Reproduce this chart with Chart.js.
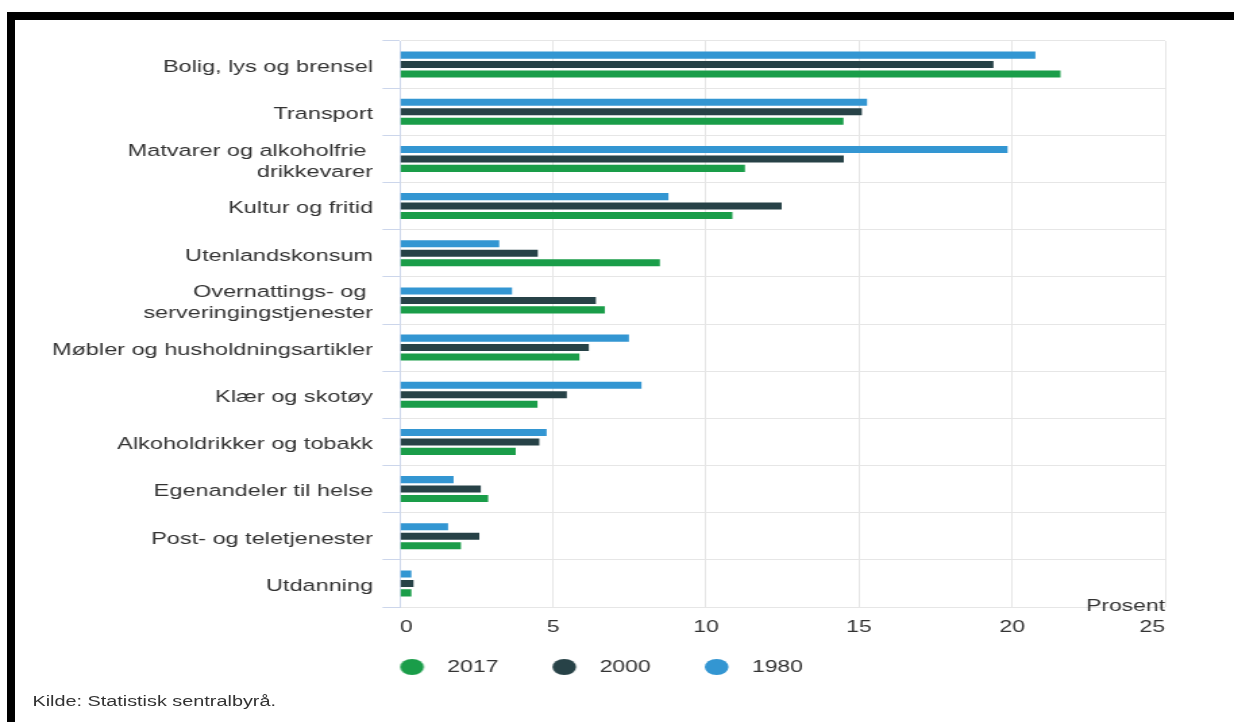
<!DOCTYPE html>
<html>
<head>
<meta charset="utf-8">
<script src="https://cdn.jsdelivr.net/npm/chart.js@4.4.1/dist/chart.umd.min.js"></script>
<style>
  html, body { margin: 0; padding: 0; background: #fff; overflow: hidden; }
  #frame { position: absolute; left: 7px; top: 12px; width: 1227px; height: 710px; box-sizing: border-box;
           border-top: 8px solid #000; border-left: 8px solid #000; }
  #wrap { position: absolute; left: 0; top: 0; width: 914px; height: 722px;
          transform: scaleX(1.3501); transform-origin: 0 0; }
  #chart { position: absolute; left: 0; top: 0; }
  #source { position: absolute; left: 24px; top: 692px; font: 14.7px "Liberation Sans", Arial, sans-serif;
            color: #333; line-height: 18px; white-space: nowrap; }
</style>
</head>
<body>
<div id="frame"></div>
<div id="wrap">
  <canvas id="chart" width="914" height="722"></canvas>
  <div id="source">Kilde: Statistisk sentralbyrå.</div>
</div>
<script>
const categories = [
  'Bolig, lys og brensel',
  'Transport',
  ['Matvarer og alkoholfrie ', 'drikkevarer'],
  'Kultur og fritid',
  'Utenlandskonsum',
  ['Overnattings- og ', 'serveringingstjenester'],
  'Møbler og husholdningsartikler',
  'Klær og skotøy',
  'Alkoholdrikker og tobakk',
  'Egenandeler til helse',
  'Post- og teletjenester',
  'Utdanning'
];
const v1980 = [20.76, 15.26, 19.85, 8.77, 3.24, 3.66, 7.48, 7.89, 4.79, 1.75, 1.57, 0.37];
const v2000 = [19.39, 15.09, 14.50, 12.47, 4.50, 6.40, 6.17, 5.45, 4.55, 2.64, 2.59, 0.44];
const v2017 = [21.58, 14.49, 11.27, 10.86, 8.49, 6.69, 5.86, 4.49, 3.78, 2.88, 1.99, 0.37];
const xTicks = [0, 5, 10, 15, 20, 25];

const blue = '#3396d2', dark = '#274247', green = '#1a9d49';

Chart.defaults.font.family = '"Liberation Sans", Arial, sans-serif';
Chart.defaults.font.size = 17;
Chart.defaults.color = '#333';

// legend dots drawn on small canvases; the dot sits right of centre so the
// gap to the label text stays small while the items keep their wide spacing
function dot(color) {
  const c = document.createElement('canvas');
  c.width = 30; c.height = 16;
  const g = c.getContext('2d');
  g.fillStyle = color;
  g.beginPath();
  g.ellipse(19.8, 8, 8.8, 8, 0, 0, Math.PI * 2);
  g.fill();
  return c;
}
const dots = [dot(blue), dot(dark), dot(green)];

const unitLabel = {
  id: 'unitLabel',
  afterDraw(chart) {
    const {ctx, chartArea} = chart;
    ctx.save();
    ctx.font = '17px "Liberation Sans", Arial, sans-serif';
    ctx.fillStyle = '#333';
    ctx.textAlign = 'right';
    ctx.fillText('Prosent', chartArea.right, chartArea.bottom - 1);
    ctx.restore();
  }
};

const data = {
  labels: categories,
  datasets: [
    { label: '1980', data: v1980, backgroundColor: blue },
    { label: '2000', data: v2000, backgroundColor: dark },
    { label: '2017', data: v2017, backgroundColor: green }
  ]
};

const config = {
  type: 'bar',
  data: data,
  options: {
    indexAxis: 'y',
    responsive: false,
    animation: false,
    layout: { padding: { left: 9.6, right: 51, top: 41, bottom: 36.5 } },
    datasets: { bar: { categoryPercentage: 0.6, barPercentage: 0.75 } },
    plugins: {
      legend: {
        position: 'bottom',
        align: 'center',
        reverse: true,
        labels: {
          usePointStyle: true,
          pointStyleWidth: 45,
          padding: 21.5,
          generateLabels: (chart) =>
            Chart.defaults.plugins.legend.labels.generateLabels(chart)
              .map(item => ({ ...item, pointStyle: dots[item.datasetIndex] }))
        }
      },
      tooltip: { enabled: false }
    },
    scales: {
      x: {
        min: xTicks[0],
        max: xTicks[xTicks.length - 1],
        ticks: { stepSize: 5, padding: 10, align: 'inner' },
        grid: { color: '#e6e6e6', drawTicks: false },
        border: { display: false },
        afterFit(scale) { scale.height = 30; }
      },
      y: {
        ticks: { padding: 7, labelOffset: 2.5, font: { size: 17.4 } },
        grid: { color: '#e6e6e6', tickColor: '#ccd6eb', tickLength: 13 },
        border: { color: '#ccd6eb' },
        afterFit(scale) { scale.width = 286.7; }
      }
    }
  },
  plugins: [unitLabel]
};

var chart = new Chart(document.getElementById('chart'), config);
</script>
</body>
</html>
